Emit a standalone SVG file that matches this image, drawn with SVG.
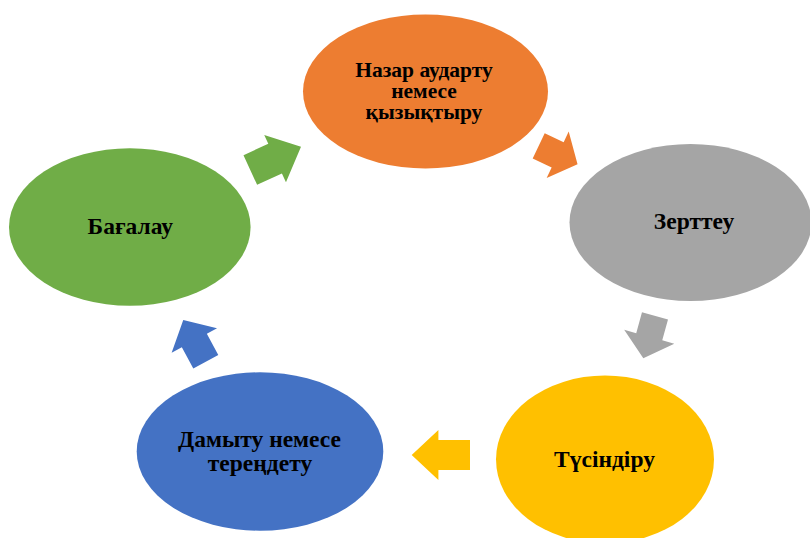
<svg xmlns="http://www.w3.org/2000/svg" width="810" height="538" viewBox="0 0 810 538">
<style>
text{font-family:"Liberation Serif","Times New Roman",serif;font-weight:bold;font-size:23.5px;fill:#000;text-anchor:middle}
text.sm{font-size:21.5px}
.o{fill:#ED7D31}.g{fill:#A5A5A5}.y{fill:#FFC000}.b{fill:#4472C4}.gr{fill:#70AD47}
</style>
<rect width="810" height="538" fill="#fff"/>
<g id="connectors">
<path class="gr" transform="translate(250.3,170) rotate(-24.7)" d="M0,-16.3 L27.3,-16.3 L27.3,-26 L55.8,0 L27.3,26 L27.3,16.3 L0,16.3 Z"/>
<path class="o" transform="translate(538.7,145.8) rotate(25.4)" d="M0,-14 L21,-14 L21,-25.7 L43,0 L21,25.7 L21,14 L0,14 Z"/>
<path class="g" transform="translate(655,315.8) rotate(105.4)" d="M0,-13.5 L21.7,-13.5 L21.7,-26 L44,0 L21.7,26 L21.7,13.5 L0,13.5 Z"/>
<path class="y" transform="translate(470,455) rotate(180)" d="M0,-15 L31.6,-15 L31.6,-25 L58.3,0 L31.6,25 L31.6,15 L0,15 Z"/>
<path class="b" transform="translate(205.8,361.7) rotate(-118.4)" d="M0,-14.2 L24.1,-14.2 L24.1,-25.8 L47.4,0 L24.1,25.8 L24.1,14.2 L0,14.2 Z"/>
</g>
<g id="node-attention">
<ellipse class="o" cx="425.5" cy="91.5" rx="122.5" ry="77"/>
<text class="sm" x="424" y="76.5">Назар аударту</text>
<text class="sm" x="424" y="97.5">немесе</text>
<text class="sm" x="424" y="118.5">қызықтыру</text>
</g>
<g id="node-research">
<ellipse class="g" cx="690.5" cy="222.5" rx="121" ry="78.5"/>
<text x="694" y="229.3">Зерттеу</text>
</g>
<g id="node-explain">
<ellipse class="y" cx="605" cy="459.5" rx="109" ry="84"/>
<text x="604.5" y="467.3">Түсіндіру</text>
</g>
<g id="node-develop">
<ellipse class="b" cx="260" cy="451.5" rx="123.3" ry="79.2"/>
<text x="259.5" y="447">Дамыту немесе</text>
<text x="260" y="471">тереңдету</text>
</g>
<g id="node-evaluate">
<ellipse class="gr" cx="129.8" cy="227" rx="120.8" ry="78.7"/>
<text x="130.3" y="234">Бағалау</text>
</g>
</svg>
